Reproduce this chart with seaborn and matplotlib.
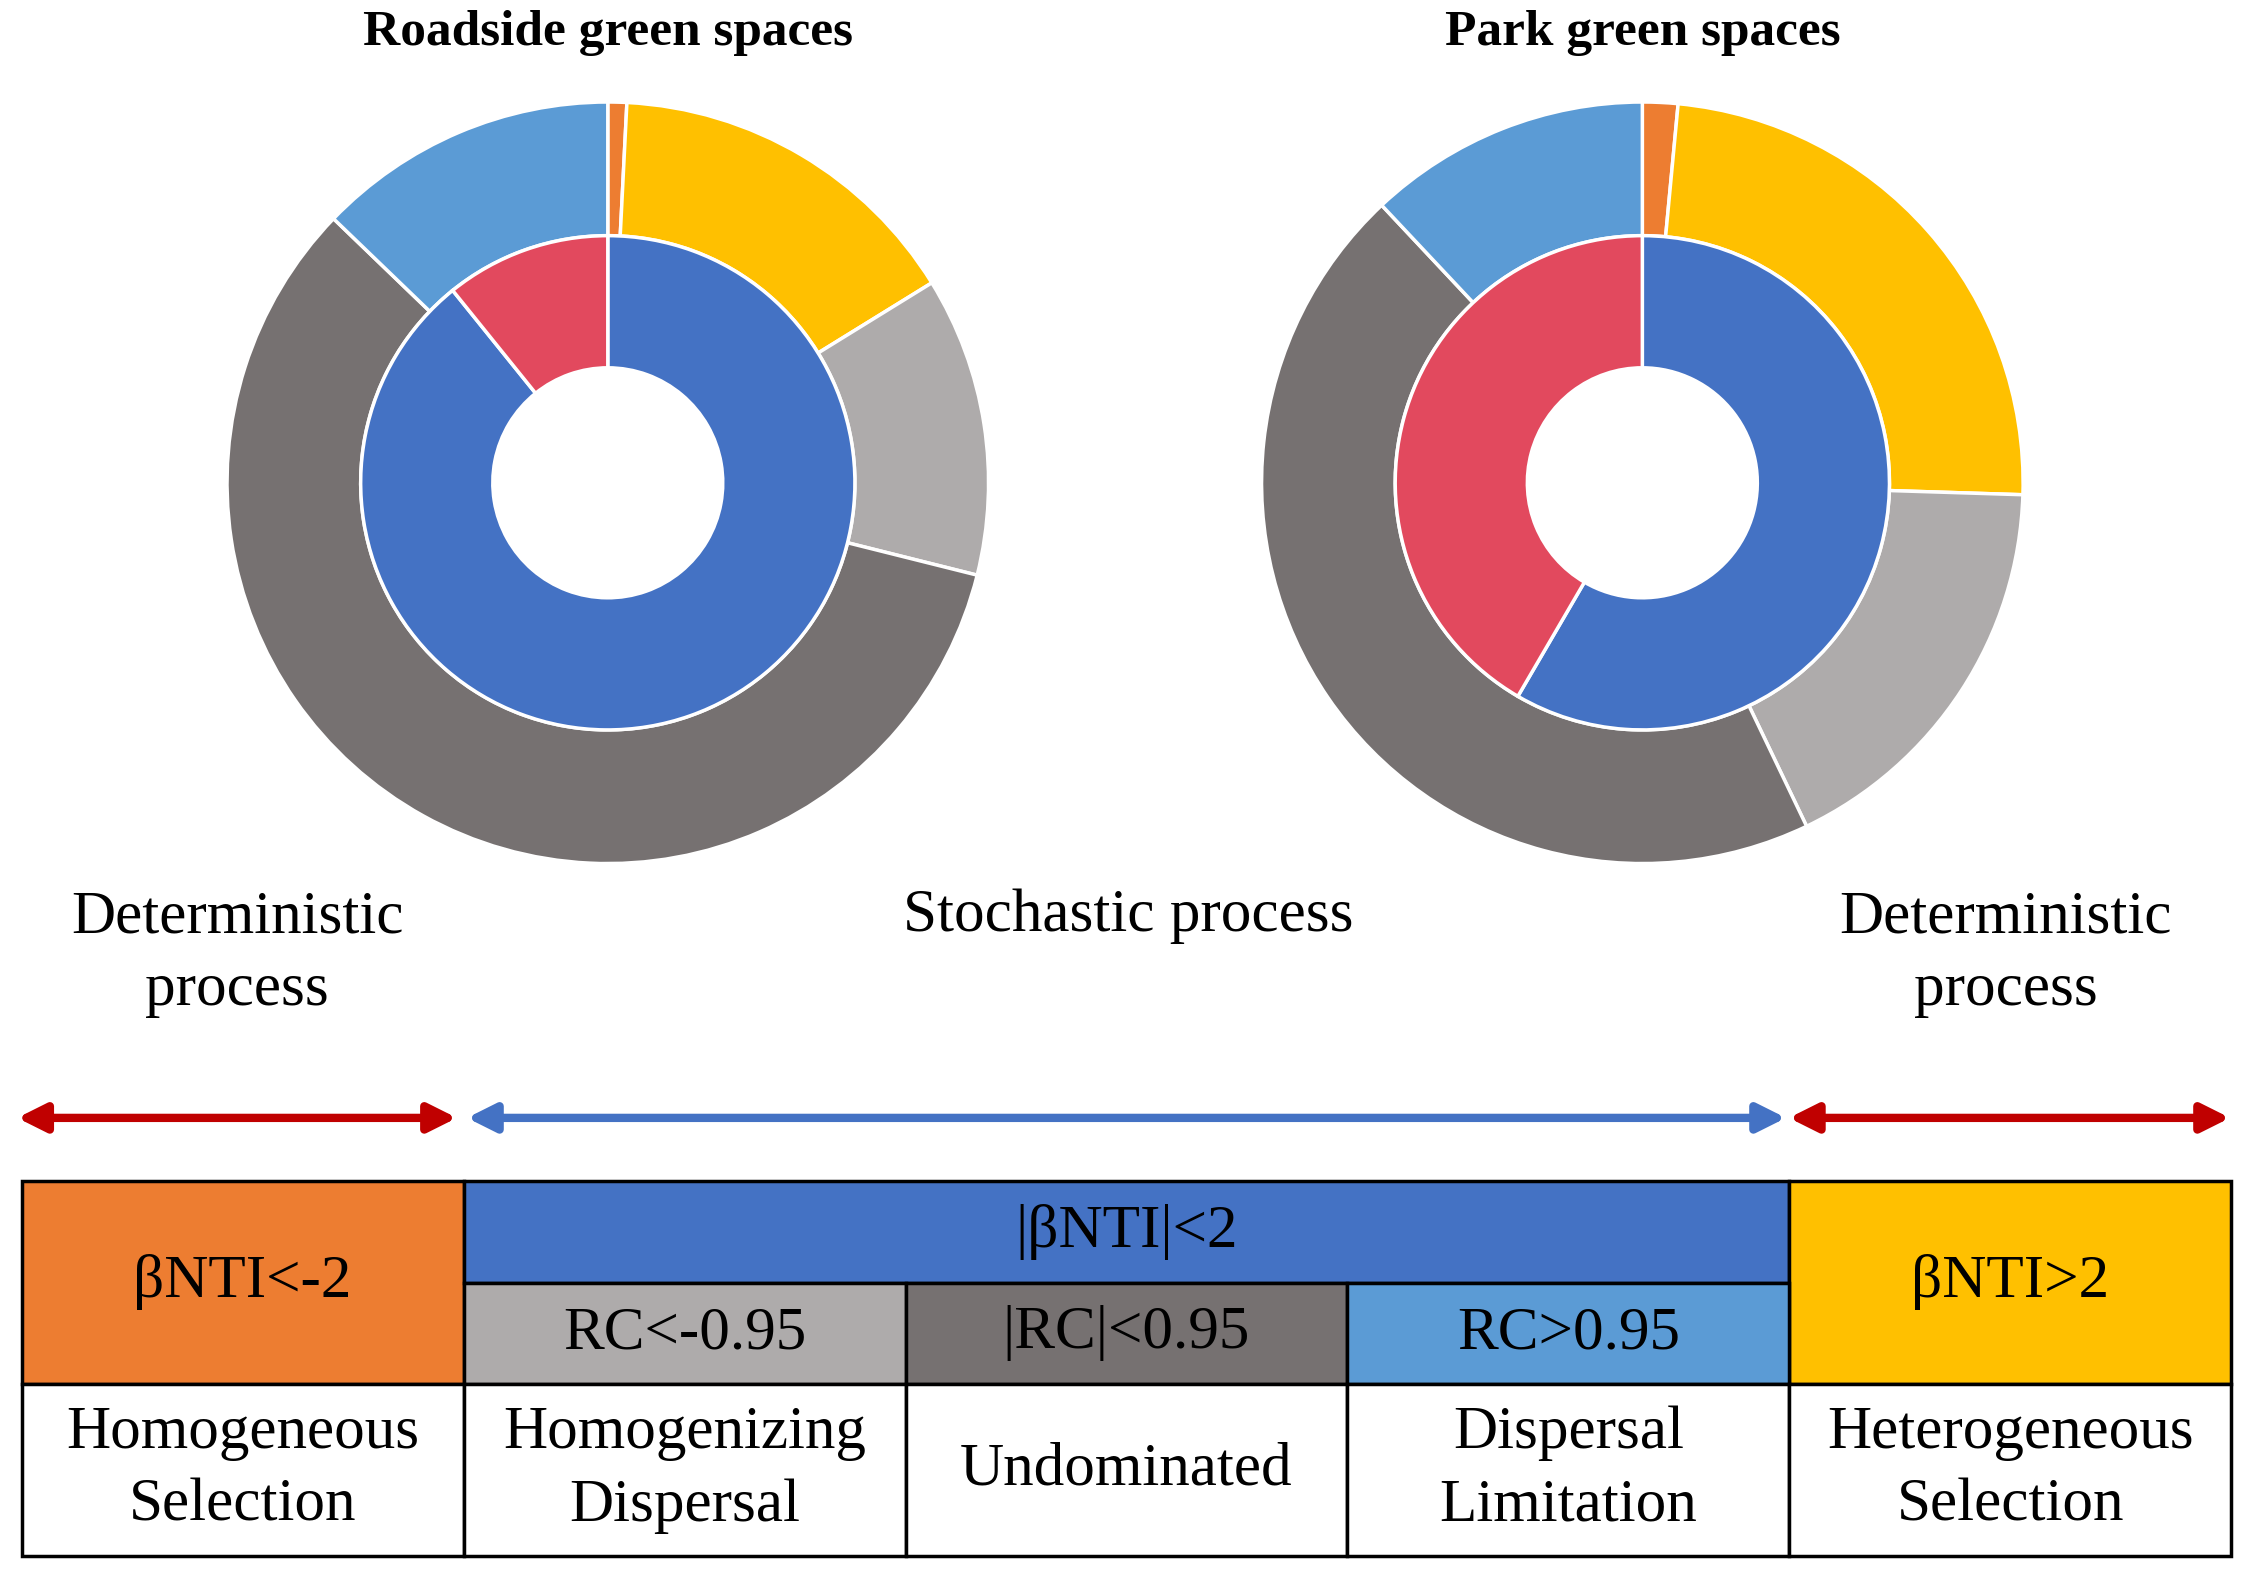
import numpy as np
import matplotlib.pyplot as plt
import seaborn as sns
from matplotlib.patches import Rectangle

# --- data (percent of pairwise comparisons) ---
outer_labels = ['Homogeneous Selection', 'Heterogeneous Selection',
                'Homogenizing Dispersal', 'Undominated', 'Dispersal Limitation']
outer_colors = ['#ED7D31', '#FFC000', '#AEABAB', '#767171', '#5B9BD5']
roadside_outer = [0.8, 15.4, 12.7, 58.3, 12.8]
park_outer = [1.5, 24.0, 17.4, 45.1, 12.0]

inner_labels = ['Stochastic', 'Deterministic']
inner_colors = ['#4472C4', '#E2495E']
roadside_inner = [89.2, 10.8]
park_inner = [58.4, 41.6]

titles = ['Roadside green spaces', 'Park green spaces']

# table text
top_labels = ['βNTI<-2', '|βNTI|<2', 'βNTI>2']
top_colors = ['#ED7D31', '#4472C4', '#FFC000']
rc_labels = ['RC<-0.95', '|RC|<0.95', 'RC>0.95']
rc_colors = ['#AEABAB', '#767171', '#5B9BD5']
process_labels = ['Homogeneous\nSelection', 'Homogenizing\nDispersal', 'Undominated',
                  'Dispersal\nLimitation', 'Heterogeneous\nSelection']

sns.set_theme(style='white')
plt.rcParams['font.family'] = ['Liberation Serif', 'DejaVu Serif']
plt.rcParams['text.color'] = 'black'

W, H = 1568, 1101
fig = plt.figure(figsize=(22.53, 15.82), dpi=100)

# overlay axes in reference pixel units
ov = fig.add_axes([0, 0, 1, 1])
ov.set_xlim(0, W)
ov.set_ylim(H, 0)
ov.axis('off')
ov.patch.set_alpha(0)

# --- donuts ---
R = 265
centers = [(423, 336), (1143, 336)]
for (cx, cy), outer, inner, title in zip(centers, [roadside_outer, park_outer],
                                         [roadside_inner, park_inner], titles):
    ax = fig.add_axes([(cx - R) / W, 1 - (cy + R) / H, 2 * R / W, 2 * R / H])
    ax.pie(outer, colors=outer_colors, radius=1.0, startangle=90, counterclock=False,
           wedgeprops=dict(width=0.351, edgecolor='white', linewidth=2.5))
    ax.pie(inner, colors=inner_colors, radius=0.649, startangle=90, counterclock=False,
           wedgeprops=dict(width=0.347, edgecolor='white', linewidth=2.5))
    ax.set_xlim(-1, 1)
    ax.set_ylim(-1, 1)
    ax.set_aspect('equal')
    ov.text(cx, 23, title, ha='center', va='center', fontsize=37, fontweight='bold')

# --- process labels ---
fs = 44
ls = 1.4
ov.text(165, 664, 'Deterministic\nprocess', ha='center', va='center', fontsize=fs,
        linespacing=ls)
ov.text(785, 638, 'Stochastic process', ha='center', va='center', fontsize=fs)
ov.text(1396, 664, 'Deterministic\nprocess', ha='center', va='center', fontsize=fs,
        linespacing=ls)

# --- arrows ---
ay = 778
for x0, x1, col in [(12, 318, '#C00000'), (325, 1243, '#4472C4'), (1245, 1552, '#C00000')]:
    ov.annotate('', xy=(x1, ay), xytext=(x0, ay),
                arrowprops=dict(arrowstyle='<|-|>', color=col, lw=6,
                                mutation_scale=42, shrinkA=0, shrinkB=0))

# --- table ---
cols = np.linspace(15, 1553, 6)
rows = [822, 893, 963, 1083]
lw = 2.5

def cell(x0, x1, y0, y1, color, text):
    ov.add_patch(Rectangle((x0, y0), x1 - x0, y1 - y0, facecolor=color,
                           edgecolor='black', linewidth=lw))
    ov.text((x0 + x1) / 2, (y0 + y1) / 2, text, ha='center', va='center', fontsize=fs,
            linespacing=ls)

cell(cols[0], cols[1], rows[0], rows[2], top_colors[0], top_labels[0])
cell(cols[1], cols[4], rows[0], rows[1], top_colors[1], top_labels[1])
cell(cols[4], cols[5], rows[0], rows[2], top_colors[2], top_labels[2])
for i, (lab, col) in enumerate(zip(rc_labels, rc_colors)):
    cell(cols[i + 1], cols[i + 2], rows[1], rows[2], col, lab)
for i, lab in enumerate(process_labels):
    cell(cols[i], cols[i + 1], rows[2], rows[3], 'white', lab)

fig.savefig('out.png', dpi=100, facecolor='white')
plt.close(fig)
